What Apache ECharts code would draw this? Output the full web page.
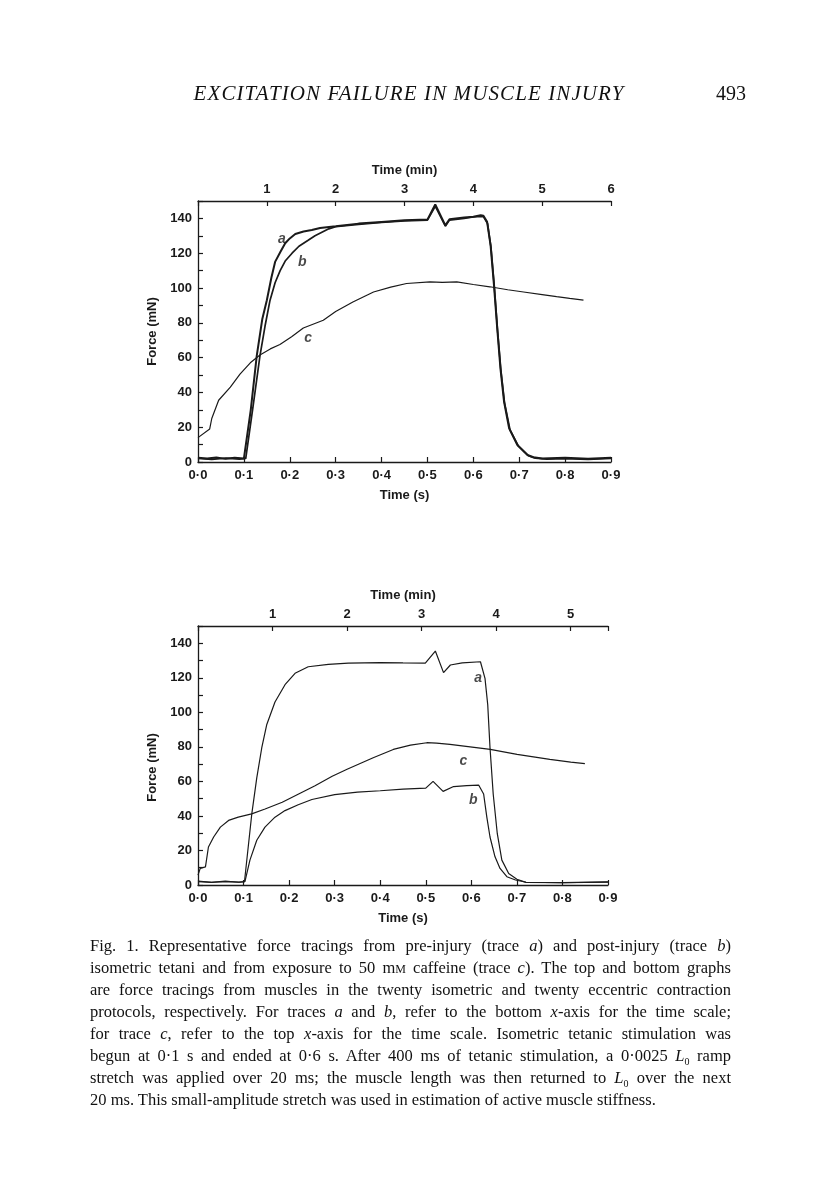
<!DOCTYPE html>
<html>
<head>
<meta charset="utf-8">
<script src="https://cdn.jsdelivr.net/npm/echarts@6/dist/echarts.min.js"></script>
<style>
  html, body { margin: 0; padding: 0; background: #fff; }
  #page { position: relative; width: 816px; height: 1200px; overflow: hidden; background: #fff; }
  #chart { position: absolute; left: 0; top: 0; width: 816px; height: 1200px; }
  #header { position: absolute; left: 0; top: 81px; width: 816px; height: 26px; font-family: "Liberation Serif", serif; color: #111; }
  #header .title { position: absolute; left: 186px; width: 446px; text-align: center; font-style: italic; font-size: 21px; letter-spacing: 1.1px; white-space: nowrap; }
  #header .page { position: absolute; left: 716px; top: 1px; font-size: 20px; }
  #caption { position: absolute; left: 90px; top: 935px; width: 641px; font-family: "Liberation Serif", serif; font-size: 16.5px; color: #111; }
  #caption div { height: 22px; line-height: 22px; text-align: justify; text-align-last: justify; white-space: nowrap; }
  #caption div.last { text-align-last: left; }
  .sc { font-variant: small-caps; }
</style>
</head>
<body>
<div id="page">
  <div id="chart"></div>
  <div id="header"><span class="title">EXCITATION FAILURE IN MUSCLE INJURY</span><span class="page">493</span></div>
  <div id="caption">
    <div>Fig. 1. Representative force tracings from pre-injury (trace <i>a</i>) and post-injury (trace <i>b</i>)</div>
    <div>isometric tetani and from exposure to 50 m<span class="sc">m</span> caffeine (trace <i>c</i>). The top and bottom graphs</div>
    <div>are force tracings from muscles in the twenty isometric and twenty eccentric contraction</div>
    <div>protocols, respectively. For traces <i>a</i> and <i>b</i>, refer to the bottom <i>x</i>-axis for the time scale;</div>
    <div>for trace <i>c</i>, refer to the top <i>x</i>-axis for the time scale. Isometric tetanic stimulation was</div>
    <div>begun at 0·1 s and ended at 0·6 s. After 400 ms of tetanic stimulation, a 0·0025 <i>L</i><sub style="font-size:10px">0</sub> ramp</div>
    <div>stretch was applied over 20 ms; the muscle length was then returned to <i>L</i><sub style="font-size:10px">0</sub> over the next</div>
    <div class="last">20 ms. This small-amplitude stretch was used in estimation of active muscle stiffness.</div>
  </div>
</div>
<script>
// ---------- Top graph (isometric protocol) ----------
// Trace a & b: time in s (bottom axis); force in mN
const topA_t = [0, 0.02, 0.04, 0.06, 0.08, 0.1, 0.103, 0.115, 0.128, 0.14, 0.15, 0.16, 0.168, 0.18, 0.19, 0.2, 0.212, 0.23, 0.248, 0.266, 0.3, 0.35, 0.4, 0.45, 0.5, 0.517, 0.539, 0.548, 0.58, 0.6, 0.616, 0.622, 0.63, 0.6376, 0.645, 0.652, 0.659, 0.667, 0.678, 0.696, 0.718, 0.731, 0.75, 0.8, 0.85, 0.9];
const topA_f = [2.5, 2.0, 2.6, 1.8, 2.4, 2.0, 2.0, 30, 61, 82, 93, 106, 115, 121, 125.7, 128.5, 131, 132.5, 133.3, 134.5, 135.5, 137, 138, 139, 139.3, 148, 136, 139.5, 140.5, 141, 141.8, 141.5, 138, 124.5, 101.6, 77, 54, 34.6, 19.3, 9.8, 4, 2.7, 2.0, 2.4, 1.8, 2.5];
const topB_t = [0, 0.03, 0.06, 0.09, 0.104, 0.12, 0.135, 0.146, 0.157, 0.168, 0.179, 0.19, 0.205, 0.22, 0.24, 0.255, 0.27, 0.285, 0.3, 0.35, 0.4, 0.45, 0.5, 0.517, 0.539, 0.548, 0.58, 0.6, 0.616, 0.622, 0.631, 0.6386, 0.646, 0.653, 0.66, 0.668, 0.68, 0.698, 0.72, 0.735, 0.76, 0.8, 0.85, 0.9];
const topB_f = [2.0, 1.5, 2.2, 1.6, 2.0, 32, 61, 78, 93, 103, 110, 115.5, 120, 124, 127.4, 130, 132, 134, 135.2, 136.6, 137.7, 138.6, 139, 147, 135.5, 139, 140, 140.8, 141.2, 141, 137, 123, 100, 75, 53, 34, 18.5, 9.2, 3.6, 2.2, 1.6, 1.9, 1.5, 2.0];
// Trace c: time in min (top axis)
const topC_t = [0, 0.17, 0.2, 0.3, 0.47, 0.61, 0.76, 0.9, 1.05, 1.19, 1.36, 1.53, 1.82, 2.0, 2.25, 2.55, 2.8, 3.03, 3.37, 3.55, 3.76, 4.0, 4.24, 4.5, 4.73, 5.0, 5.21, 5.4, 5.6];
const topC_f = [14, 19, 25, 35.5, 43, 50.5, 57, 61.5, 65, 67.5, 72, 77, 81.5, 86.5, 92, 97.7, 100.5, 102.6, 103.5, 103.2, 103.5, 102, 100.7, 99, 97.7, 96.2, 95, 94, 93];

// ---------- Bottom graph (eccentric protocol) ----------
const botA_t = [0, 0.03, 0.06, 0.09, 0.102, 0.118, 0.129, 0.14, 0.151, 0.169, 0.191, 0.213, 0.242, 0.286, 0.33, 0.4, 0.45, 0.499, 0.521, 0.539, 0.554, 0.58, 0.62, 0.623, 0.63, 0.636, 0.641, 0.648, 0.657, 0.667, 0.682, 0.7, 0.72, 0.8, 0.9];
const botA_f = [2.2, 1.6, 2.0, 1.7, 1.9, 41, 62, 79.5, 93, 106, 116, 122.6, 126.4, 127.8, 128.5, 128.8, 128.6, 128.5, 135.5, 123, 127.4, 128.6, 129.3, 128.3, 119.7, 104.4, 79.5, 52.7, 29.7, 14.4, 6.7, 3.3, 1.5, 1.3, 1.7];
const botB_t = [0, 0.03, 0.06, 0.09, 0.103, 0.114, 0.129, 0.147, 0.169, 0.191, 0.22, 0.25, 0.3, 0.35, 0.4, 0.45, 0.5, 0.516, 0.538, 0.561, 0.59, 0.616, 0.62, 0.627, 0.634, 0.641, 0.652, 0.663, 0.678, 0.697, 0.72, 0.8, 0.9];
const botB_f = [2.0, 1.5, 2.2, 1.6, 2.0, 14.4, 25.9, 33.5, 39.3, 43.1, 46.5, 49.5, 52.3, 53.8, 54.6, 55.5, 56.1, 60, 54.2, 57, 57.5, 57.9, 57.5, 52.7, 39.3, 27.8, 16.3, 9.6, 4.8, 2.9, 1.6, 1.4, 1.8];
const botC_t = [0, 0.03, 0.1, 0.14, 0.21, 0.3, 0.41, 0.54, 0.72, 0.9, 1.13, 1.35, 1.57, 1.8, 2.0, 2.35, 2.62, 2.85, 3.07, 3.2, 3.38, 3.65, 3.92, 4.28, 4.72, 5.0, 5.19];
const botC_f = [5.7, 9.6, 10.5, 22, 27.8, 33.5, 37.4, 39.3, 41.2, 44, 47.9, 52.7, 57.5, 63, 67, 73.7, 78.5, 81, 82.4, 82.2, 81.4, 80, 78.5, 75.6, 72.8, 71.2, 70.3];

// Trace labels: [name, x, y] in the coordinates of the axis the trace uses
const topLabelsSec = [['a', 0.183, 128], ['b', 0.227, 115]];
const topLabelsMin = [['c', 1.6, 71]];
const botLabelsSec = [['a', 0.615, 120], ['b', 0.604, 49]];
const botLabelsMin = [['c', 3.56, 72]];

// Axis ticks
const secMin = 0, secMax = 0.9, secStep = 0.1;
const forceMin = 0, forceMax = 150, forceStep = 10, forceLabelStep = 20;
const topMinMax = 6, botMinMax = 5.5, minStep = 1;

const pair = (t, f) => t.map((x, i) => [x, f[i]]);

const FONT = '"Liberation Sans", Arial, sans-serif';
const INK = '#1a1a1a';
const axisLine = { show: true, lineStyle: { color: INK, width: 1.3 } };
const labelStyle = { color: INK, fontFamily: FONT, fontWeight: 'bold', fontSize: 13 };
const nameStyle = { color: INK, fontFamily: FONT, fontWeight: 'bold', fontSize: 13 };

function secAxis(grid) {
  return {
    type: 'value', gridIndex: grid, position: 'bottom',
    min: secMin, max: secMax, interval: secStep,
    name: 'Time (s)', nameLocation: 'middle', nameGap: 27, nameTextStyle: nameStyle,
    axisLine, splitLine: { show: false },
    axisTick: { show: true, inside: true, length: 5, lineStyle: { color: INK, width: 1.2 } },
    axisLabel: { ...labelStyle, margin: 7, formatter: v => v.toFixed(1).replace('.', '·') }
  };
}
function minAxis(grid, max) {
  return {
    type: 'value', gridIndex: grid, position: 'top',
    min: 0, max: max, interval: minStep,
    name: 'Time (min)', nameLocation: 'middle', nameGap: 24, nameTextStyle: nameStyle,
    axisLine, splitLine: { show: false },
    axisTick: { show: true, inside: true, length: 5, lineStyle: { color: INK, width: 1.2 } },
    axisLabel: { ...labelStyle, margin: 5, formatter: v => (v > 0 && Math.abs(v - Math.round(v)) < 1e-6) ? String(Math.round(v)) : '' }
  };
}
function forceAxis(grid, pad) {
  return {
    type: 'value', gridIndex: grid, min: forceMin, max: forceMax, interval: forceStep,
    name: 'Force (mN)', nameLocation: 'middle', nameGap: 33,
    nameTextStyle: { ...nameStyle, padding: pad },
    axisLine, splitLine: { show: false },
    axisTick: { show: true, inside: true, length: 5, lineStyle: { color: INK, width: 1.2 } },
    axisLabel: { ...labelStyle, margin: 6, formatter: v => (v % forceLabelStep === 0 && v < forceMax) ? String(v) : '' }
  };
}
function trace(name, data, xi, yi, w) {
  return {
    name, type: 'line', data, xAxisIndex: xi, yAxisIndex: yi,
    showSymbol: false, symbol: 'none', smooth: false,
    lineStyle: { color: INK, width: w }, silent: true, z: 3
  };
}
function labels(list, xi, yi) {
  return {
    type: 'scatter', xAxisIndex: xi, yAxisIndex: yi, symbolSize: 0, silent: true,
    data: list.map(d => ({ name: d[0], value: [d[1], d[2]] })),
    label: { show: true, position: 'inside', formatter: '{b}', color: INK,
             fontFamily: FONT, fontStyle: 'italic', fontWeight: 'bold', fontSize: 14 }
  };
}

const chart = echarts.init(document.getElementById('chart'), null, { renderer: 'canvas' });
chart.setOption({
  animation: false,
  backgroundColor: 'transparent',
  grid: [
    { left: 198, top: 201, width: 413, height: 261, containLabel: false },
    { left: 198, top: 626, width: 410, height: 259, containLabel: false }
  ],
  xAxis: [secAxis(0), minAxis(0, topMinMax), secAxis(1), minAxis(1, botMinMax)],
  yAxis: [forceAxis(0, [0, 0, 0, 0]), forceAxis(1, [0, 24, 0, 0])],
  series: [
    trace('a', pair(topA_t, topA_f), 0, 0, 2.0),
    trace('b', pair(topB_t, topB_f), 0, 0, 1.7),
    trace('c', pair(topC_t, topC_f), 1, 0, 1.2),
    trace('a', pair(botA_t, botA_f), 2, 1, 1.2),
    trace('b', pair(botB_t, botB_f), 2, 1, 1.2),
    trace('c', pair(botC_t, botC_f), 3, 1, 1.2),
    labels(topLabelsSec, 0, 0),
    labels(topLabelsMin, 1, 0),
    labels(botLabelsSec, 2, 1),
    labels(botLabelsMin, 3, 1)
  ]
});
</script>
</body>
</html>
